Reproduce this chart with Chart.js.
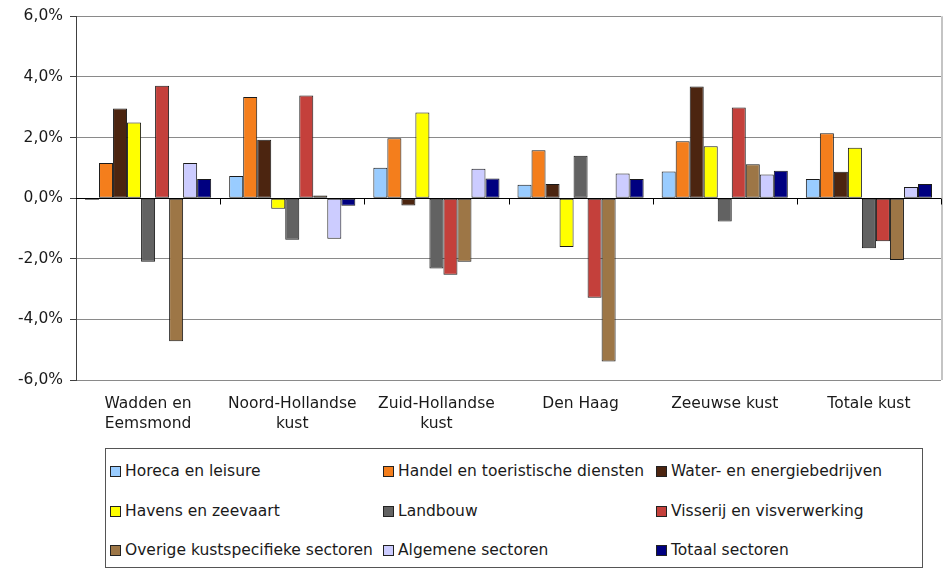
<!DOCTYPE html>
<html>
<head>
<meta charset="utf-8">
<script src="https://cdn.jsdelivr.net/npm/chart.js@4/dist/chart.umd.min.js"></script>
<style>
  html, body { margin: 0; padding: 0; background: #fff; }
  #wrap { position: relative; width: 946px; height: 571px; overflow: hidden; }
  #c { position: absolute; left: 0; top: 0; }
  #legend {
    position: absolute; left: 105px; top: 448px; width: 818px; height: 120px;
    border: 1px solid #555; box-sizing: border-box;
    font-family: "DejaVu Sans", Verdana, sans-serif; font-size: 15.5px; color: #1a1a1a;
  }
  .li { position: absolute; white-space: nowrap; line-height: 18px; height: 18px; }
  .sw { position: absolute; left: 0; top: 4px; width: 9px; height: 9px; border: 1px solid #222; }
  .tx { position: absolute; left: 15px; top: 0; }
</style>
</head>
<body>
<div id="wrap">
  <canvas id="c" width="946" height="440"></canvas>
  <div id="legend"></div>
</div>
<script>
// ---- data ----
const categories = [
  ['Wadden en', 'Eemsmond'],
  ['Noord-Hollandse', 'kust'],
  ['Zuid-Hollandse', 'kust'],
  ['Den Haag'],
  ['Zeeuwse kust'],
  ['Totale kust']
];
const seriesNames = [
  'Horeca en leisure',
  'Handel en toeristische diensten',
  'Water- en energiebedrijven',
  'Havens en zeevaart',
  'Landbouw',
  'Visserij en visverwerking',
  'Overige kustspecifieke sectoren',
  'Algemene sectoren',
  'Totaal sectoren'
];
const horeca    = [-0.05, 0.73, 1.00, 0.44, 0.88, 0.63];
const handel    = [1.16, 3.34, 1.98, 1.58, 1.88, 2.14];
const water     = [2.96, 1.93, -0.24, 0.47, 3.68, 0.87];
const havens    = [2.50, -0.35, 2.83, -1.61, 1.71, 1.66];
const landbouw  = [-2.10, -1.37, -2.32, 1.40, -0.77, -1.65];
const visserij  = [3.71, 3.39, -2.53, -3.29, 2.99, -1.42];
const overige   = [-4.72, 0.09, -2.10, -5.39, 1.12, -2.04];
const algemene  = [1.16, -1.34, 0.97, 0.81, 0.78, 0.37];
const totaal    = [0.63, -0.25, 0.65, 0.63, 0.90, 0.47];
const yTicks = [-6, -4, -2, 0, 2, 4, 6];

// ---- styles ----
const seriesValues = [horeca, handel, water, havens, landbouw, visserij, overige, algemene, totaal];
const seriesColors = ['#99CCFF', '#F47E1C', '#4C2510', '#FFFF00', '#626262', '#C4403B', '#9D7646', '#CCCCFF', '#000080'];

const datasets = seriesNames.map((name, i) => ({
  label: name,
  data: seriesValues[i],
  backgroundColor: seriesColors[i],
  borderColor: '#1a1a1a',
  borderWidth: 1,
  borderSkipped: false,
  categoryPercentage: 0.875,
  barPercentage: 1.0
}));

const fontFamily = '"DejaVu Sans", Verdana, sans-serif';

const extras = {
  id: 'extras',
  afterDatasetsDraw(chart) {
    const { ctx, chartArea: a, scales: { x, y } } = chart;
    ctx.save();
    // right plot border
    ctx.strokeStyle = '#c4c4c4';
    ctx.lineWidth = 2;
    ctx.beginPath();
    ctx.moveTo(a.right + 1, a.top);
    ctx.lineTo(a.right + 1, a.bottom);
    ctx.stroke();
    // zero line on top + category boundary ticks
    const y0 = Math.round(y.getPixelForValue(0)) + 0.5;
    ctx.strokeStyle = '#000';
    ctx.lineWidth = 1;
    ctx.beginPath();
    ctx.moveTo(a.left, y0);
    ctx.lineTo(a.right, y0);
    for (let i = 1; i <= categories.length; i++) {
      const xp = Math.round(x.getPixelForValue(i - 0.5)) + 0.5;
      ctx.moveTo(xp, y0);
      ctx.lineTo(xp, y0 + 6);
    }
    ctx.stroke();
    ctx.restore();
  }
};

const chart = new Chart(document.getElementById('c'), {
  type: 'bar',
  data: { labels: categories, datasets },
  options: {
    responsive: false,
    animation: false,
    devicePixelRatio: 1,
    layout: { padding: { top: 14, right: 5, bottom: 0, left: 0 } },
    plugins: { legend: { display: false }, tooltip: { enabled: false } },
    scales: {
      x: {
        grid: { display: false, drawTicks: false },
        border: { display: false },
        ticks: {
          padding: 14,
          color: '#1a1a1a',
          font: { family: fontFamily, size: 15.5, lineHeight: 1.3 },
          maxRotation: 0, autoSkip: false
        },
        afterFit(s) { s.height = 60; }
      },
      y: {
        min: -6, max: 6,
        afterBuildTicks(s) { s.ticks = yTicks.map(v => ({ value: v })); },
        grid: {
          color: ctx => (ctx.tick && ctx.tick.value === 0) ? '#000' : '#8a8a8a',
          lineWidth: 1,
          drawTicks: true,
          tickLength: 6,
          tickColor: '#404040'
        },
        border: { display: true, color: '#404040', width: 1 },
        ticks: {
          padding: 7,
          color: '#1a1a1a',
          font: { family: fontFamily, size: 15.5 },
          callback: v => v.toFixed(1).replace('.', ',') + '%'
        },
        afterFit(s) { s.width = 76; }
      }
    }
  },
  plugins: [extras]
});

// ---- HTML legend built from the chart's datasets ----
const legendEl = document.getElementById('legend');
const colX = [4, 277, 550];
const rowY = [13, 53, 92];
chart.data.datasets.forEach((ds, i) => {
  const item = document.createElement('div');
  item.className = 'li';
  item.style.left = colX[i % 3] + 'px';
  item.style.top = rowY[Math.floor(i / 3)] + 'px';
  const sw = document.createElement('span');
  sw.className = 'sw';
  sw.style.background = ds.backgroundColor;
  const tx = document.createElement('span');
  tx.className = 'tx';
  tx.textContent = ds.label;
  item.appendChild(sw);
  item.appendChild(tx);
  legendEl.appendChild(item);
});
</script>
</body>
</html>
